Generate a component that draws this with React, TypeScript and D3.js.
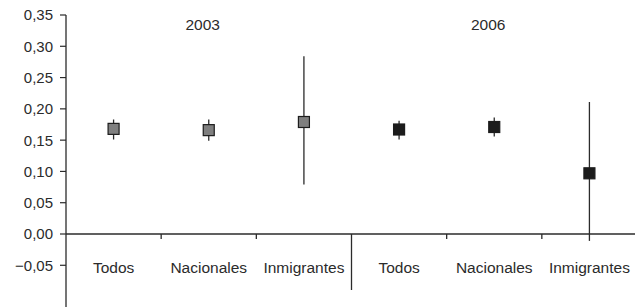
import * as d3 from 'd3';
import React, { useEffect, useRef } from 'react';

// one entry per column, left to right
const groups = ['Todos', 'Nacionales', 'Inmigrantes', 'Todos', 'Nacionales', 'Inmigrantes'];
const years = ['2003', '2003', '2003', '2006', '2006', '2006'];
const estimates = [0.168, 0.166, 0.179, 0.167, 0.171, 0.097];
const lower = [0.151, 0.149, 0.079, 0.151, 0.156, -0.011];
const upper = [0.183, 0.183, 0.284, 0.181, 0.186, 0.211];
const yearLabels = ['2003', '2006'];
const yTicks = [-0.05, 0, 0.05, 0.1, 0.15, 0.2, 0.25, 0.3, 0.35];

const W = 635, H = 307;
const params = { left: 66, right: 637, top: 15, zeroY: 234 };
const fmt = (v: number) => (v < 0 ? '\u2212' : '') + Math.abs(v).toFixed(2).replace('.', ',');

export default function App() {
  const ref = useRef<SVGSVGElement>(null);

  useEffect(() => {
    const svg = d3.select(ref.current);
    svg.selectAll('*').remove();
    const font = 'Liberation Sans, Arial, Helvetica, sans-serif';
    const ink = '#2b2b2b';

    const y = d3.scaleLinear().domain([0, 0.35]).range([params.zeroY, params.top]);
    const x = d3.scaleBand<number>().domain(d3.range(groups.length)).range([params.left, params.right]);

    // y axis
    svg.append('line').attr('x1', params.left).attr('x2', params.left)
      .attr('y1', y(0.35)).attr('y2', H).attr('stroke', ink).attr('stroke-width', 1.3);
    const yt = svg.append('g').selectAll('g').data(yTicks).join('g');
    yt.append('line').attr('x1', params.left - 6).attr('x2', params.left)
      .attr('y1', d => y(d)).attr('y2', d => y(d)).attr('stroke', ink).attr('stroke-width', 1.2);
    yt.append('text').attr('x', params.left - 13).attr('y', d => y(d)).attr('dy', '0.36em')
      .attr('text-anchor', 'end').attr('font-family', font).attr('font-size', 15).attr('fill', ink)
      .text(d => fmt(d));

    // x axis at zero
    svg.append('line').attr('x1', params.left).attr('x2', W)
      .attr('y1', y(0)).attr('y2', y(0)).attr('stroke', ink).attr('stroke-width', 1.3);
    const bounds = d3.range(1, groups.length).map(i => x(i)!);
    svg.selectAll('line.bound').data(bounds).join('line').attr('class', 'bound')
      .attr('x1', d => d).attr('x2', d => d)
      .attr('y1', y(0)).attr('y2', (d, i) => (i === 2 ? 290 : y(0) + 5))
      .attr('stroke', ink).attr('stroke-width', 1.3);

    // category labels
    svg.selectAll('text.cat').data(groups).join('text').attr('class', 'cat')
      .attr('x', (d, i) => x(i)! + x.bandwidth() / 2).attr('y', 273)
      .attr('text-anchor', 'middle').attr('font-family', font).attr('font-size', 15.5).attr('fill', ink)
      .text(d => d);

    // year labels, centred over each half
    svg.selectAll('text.year').data(yearLabels).join('text').attr('class', 'year')
      .attr('x', (d, i) => x(i * 3 + 1)! + x.bandwidth() / 2 - 6).attr('y', 29.5)
      .attr('text-anchor', 'middle').attr('font-family', font).attr('font-size', 15.5).attr('fill', ink)
      .text(d => d);

    // error bars and markers
    const pts = svg.append('g').selectAll('g').data(estimates).join('g')
      .attr('transform', (d, i) => `translate(${x(i)! + x.bandwidth() / 2},0)`);
    pts.append('line').attr('y1', (d, i) => y(lower[i])).attr('y2', (d, i) => y(upper[i]))
      .attr('stroke', ink).attr('stroke-width', 1.3);
    const s = 11;
    pts.append('rect').attr('x', -s / 2).attr('y', d => y(d) - s / 2).attr('width', s).attr('height', s)
      .attr('fill', (d, i) => (years[i] === '2003' ? '#7f7f7f' : '#1c1c1c'))
      .attr('stroke', '#1c1c1c').attr('stroke-width', 1.2);
  }, []);

  return (
    <div style={{ position: 'absolute', left: 0, top: 0 }}>
      <svg ref={ref} width={W} height={H} style={{ display: 'block', background: '#fff' }} />
    </div>
  );
}
